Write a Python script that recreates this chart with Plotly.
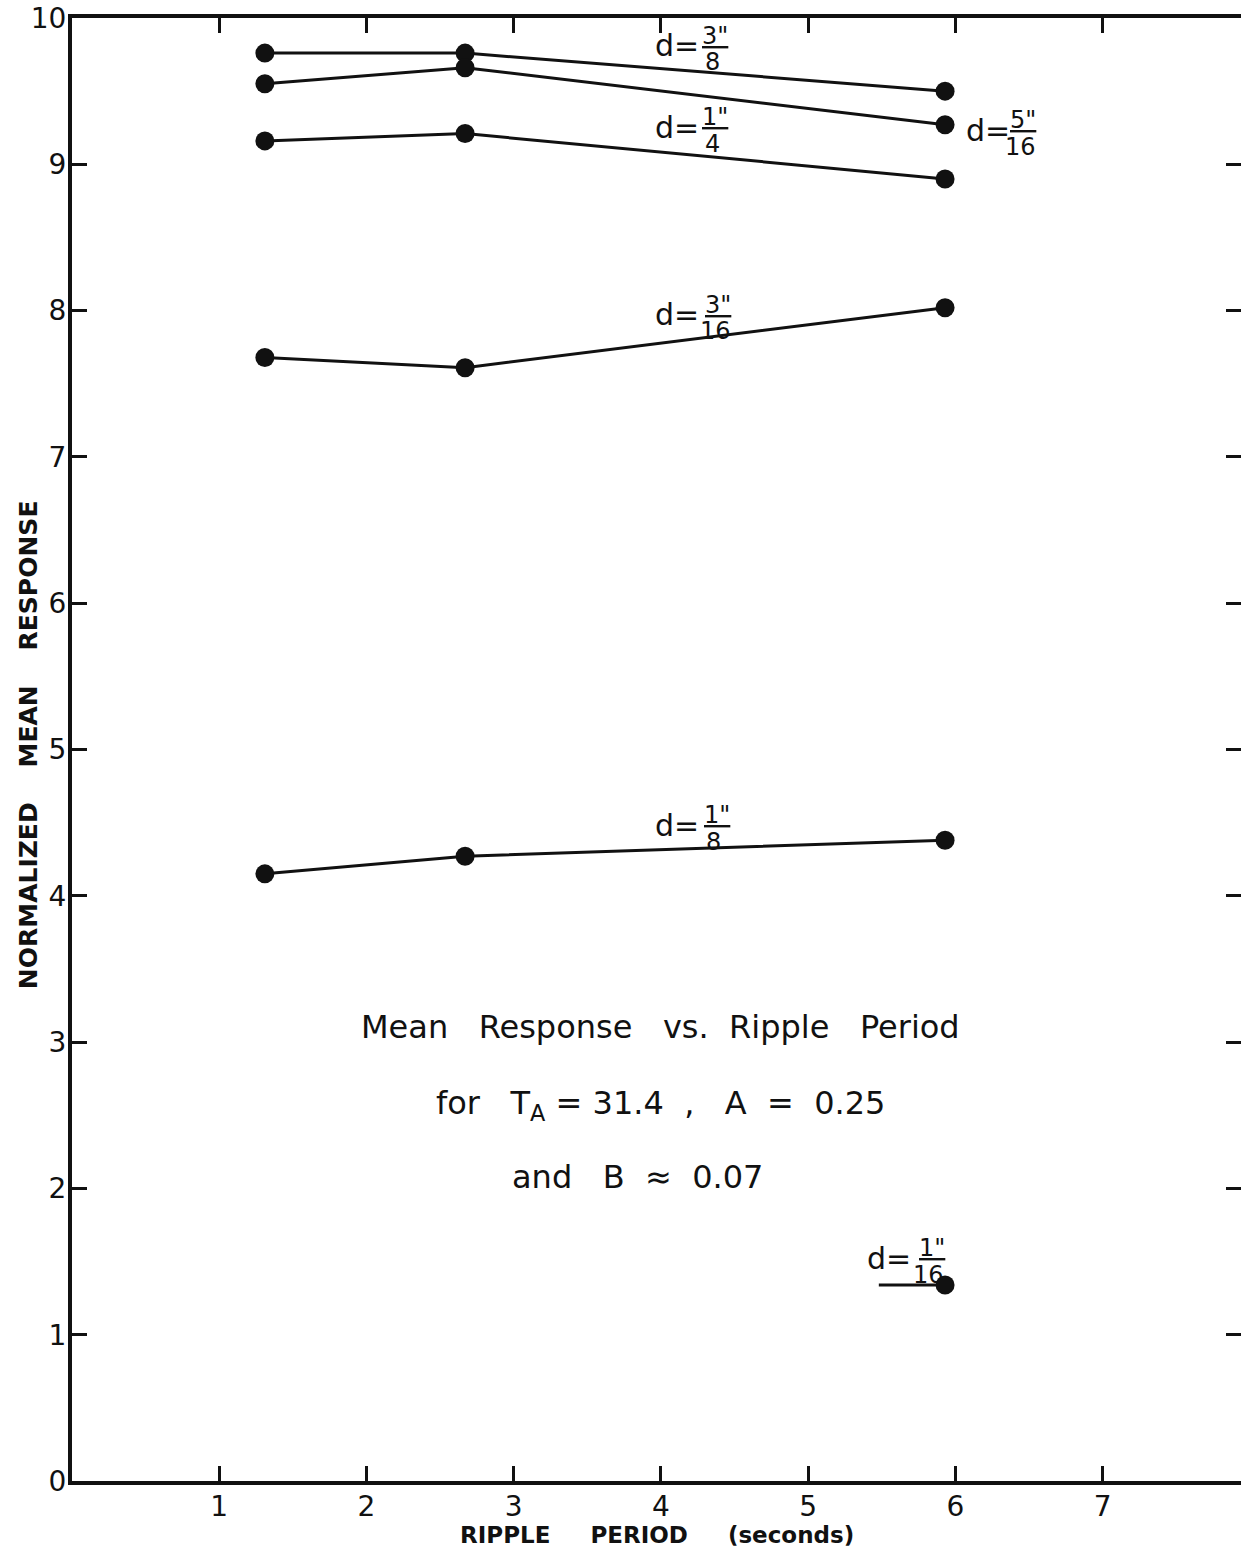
import plotly.graph_objects as go

# ---- data ----
period = [1.31, 2.67, 5.93]
d_3_8 = [9.76, 9.76, 9.50]
d_5_16 = [9.55, 9.66, 9.27]
d_1_4 = [9.16, 9.21, 8.90]
d_3_16 = [7.68, 7.61, 8.02]
d_1_8 = [4.15, 4.27, 4.38]
d_1_16_x = [5.48, 5.93]
d_1_16_y = [1.34, 1.34]

x_ticks = [1, 2, 3, 4, 5, 6, 7]
y_ticks = [0, 1, 2, 3, 4, 5, 6, 7, 8, 9, 10]

FONT = "DejaVu Sans"
INK = "#111111"

fig = go.Figure()
for ys in [d_3_8, d_5_16, d_1_4, d_3_16, d_1_8]:
    fig.add_trace(go.Scatter(
        x=period, y=ys, mode="lines+markers",
        line=dict(color=INK, width=3),
        marker=dict(color=INK, size=19),
        showlegend=False, hoverinfo="skip"))
# d = 1/16: short lead line + single point
fig.add_trace(go.Scatter(
    x=d_1_16_x, y=d_1_16_y, mode="lines",
    line=dict(color=INK, width=3),
    showlegend=False, hoverinfo="skip"))
fig.add_trace(go.Scatter(
    x=d_1_16_x[-1:], y=d_1_16_y[-1:], mode="markers",
    marker=dict(color=INK, size=19),
    showlegend=False, hoverinfo="skip"))

# ---- curve labels: "d=" + stacked fraction ----
labels = [
    # (x of "d=", y of "d=", numerator, denominator, x of fraction)
    (4.11, 9.81, '3"', "8", 4.37),
    (6.22, 9.23, '5"', "16", 6.46),
    (4.11, 9.25, '1"', "4", 4.37),
    (4.11, 7.97, '3"', "16", 4.39),
    (4.11, 4.48, '1"', "8", 4.38),
    (5.55, 1.52, '1"', "16", 5.84),
]
for xd, yd, num, den, xf in labels:
    fig.add_annotation(x=xd, y=yd, text="d=", showarrow=False,
                       font=dict(family=FONT, size=30, color=INK),
                       xanchor="center", yanchor="middle")
    fig.add_annotation(x=xf, y=yd + 0.07, text="<u>" + num + "</u>", showarrow=False,
                       font=dict(family=FONT, size=24, color=INK),
                       xanchor="center", yanchor="middle")
    fig.add_annotation(x=xf - 0.02, y=yd - 0.11, text=den, showarrow=False,
                       font=dict(family=FONT, size=24, color=INK),
                       xanchor="center", yanchor="middle")

# ---- caption ----
caption = [
    (4.0, 3.10, "Mean&nbsp;&nbsp;&nbsp;Response&nbsp;&nbsp;&nbsp;vs.&nbsp;&nbsp;Ripple&nbsp;&nbsp;&nbsp;Period"),
    (4.0, 2.57, "for&nbsp;&nbsp;&nbsp;T<sub>A</sub> = 31.4&nbsp;&nbsp;,&nbsp;&nbsp;&nbsp;A&nbsp;&nbsp;=&nbsp;&nbsp;0.25"),
    (3.84, 2.08, "and&nbsp;&nbsp;&nbsp;B&nbsp;&nbsp;≈&nbsp;&nbsp;0.07"),
]
for cx, cy, txt in caption:
    fig.add_annotation(x=cx, y=cy, text=txt, showarrow=False,
                       font=dict(family=FONT, size=32, color=INK),
                       xanchor="center", yanchor="middle")

# ---- axis titles (as annotations so the plot area stays fixed) ----
fig.add_annotation(xref="paper", yref="paper", x=0.5, y=-0.037,
                   text="<b>RIPPLE&nbsp;&nbsp;&nbsp;&nbsp;&nbsp;PERIOD&nbsp;&nbsp;&nbsp;&nbsp;&nbsp;(seconds)</b>",
                   showarrow=False, xanchor="center", yanchor="middle",
                   font=dict(family=FONT, size=23, color=INK))
fig.add_annotation(xref="paper", yref="paper", x=-0.0376, y=0.503,
                   text="<b>NORMALIZED&nbsp;&nbsp;&nbsp;&nbsp;MEAN&nbsp;&nbsp;&nbsp;&nbsp;RESPONSE</b>",
                   textangle=-90, showarrow=False, xanchor="center", yanchor="middle",
                   font=dict(family=FONT, size=25, color=INK))

axis_common = dict(
    showline=True, linecolor=INK, linewidth=4, mirror="ticks",
    ticks="inside", ticklen=15, tickwidth=3, tickcolor=INK,
    showgrid=False, zeroline=False, automargin=False,
    tickfont=dict(family=FONT, size=28, color=INK),
)

fig.update_xaxes(range=[0, 7.94], tickvals=x_ticks, ticktext=[str(v) for v in x_ticks],
                 ticklabelstandoff=-3, **axis_common)
fig.update_yaxes(range=[0, 10], tickvals=y_ticks, ticktext=[str(v) for v in y_ticks],
                 ticklabelstandoff=-4, **axis_common)

fig.update_layout(
    width=1241, height=1553,
    margin=dict(l=72, r=0, t=18, b=72),
    paper_bgcolor="white", plot_bgcolor="white",
    showlegend=False,
)

fig.write_html(
    "out.html",
    config={"displayModeBar": False},
    post_script="document.body.style.margin='0';document.body.style.overflow='hidden';",
)
